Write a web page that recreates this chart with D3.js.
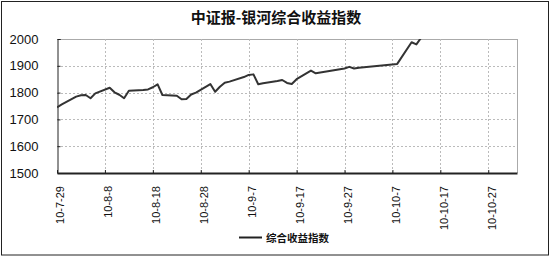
<!DOCTYPE html>
<html><head><meta charset="utf-8">
<script src="https://cdn.jsdelivr.net/npm/d3@7"></script>
<style>body{margin:0;background:#fff}svg{display:block}</style>
</head><body>
<svg id="c" width="550" height="257"></svg>
<script>
const title = "中证报-银河综合收益指数";
const seriesName = "综合收益指数";
const dates = ["2010-07-29","2010-07-30","2010-08-02","2010-08-03","2010-08-04","2010-08-05","2010-08-06",
"2010-08-09","2010-08-10","2010-08-11","2010-08-12","2010-08-13",
"2010-08-16","2010-08-17","2010-08-18","2010-08-19","2010-08-20",
"2010-08-23","2010-08-24","2010-08-25","2010-08-26","2010-08-27",
"2010-08-30","2010-08-31","2010-09-01","2010-09-02","2010-09-03",
"2010-09-06","2010-09-07","2010-09-08","2010-09-09","2010-09-10",
"2010-09-13","2010-09-14","2010-09-15","2010-09-16","2010-09-17",
"2010-09-20","2010-09-21",
"2010-09-27","2010-09-28","2010-09-29","2010-09-30",
"2010-10-08","2010-10-11","2010-10-12","2010-10-13"];
const values = [1745,1756,1785,1790,1791,1779,1797,
1818,1801,1792,1779,1807,
1810,1812,1820,1831,1791,
1788,1775,1776,1793,1800,
1832,1803,1822,1837,1841,
1858,1866,1868,1831,1835,
1843,1847,1836,1832,1850,
1882,1872,
1890,1896,1890,1893,
1907,1988,1980,2005];
const xTickLabels = ["10-7-29","10-8-8","10-8-18","10-8-28","10-9-7","10-9-17","10-9-27","10-10-7","10-10-17","10-10-27"];
const yTicks = [1500,1600,1700,1800,1900,2000];

const parse = d3.timeParse("%Y-%m-%d");
const tickFmt = d3.timeFormat("%y-%-m-%-d");
const data = dates.map((d,i)=>({date:parse(d), v:values[i]}));
const tickDates = xTickLabels.map(s=>{const p=s.split("-");return new Date(2000+ +p[0], +p[1]-1, +p[2]);});

const svg = d3.select("#c");
const L=57,R=517,T=39,B=173;
const x = d3.scaleTime().domain([parse("2010-07-29"), parse("2010-11-02")]).range([L,R]);
const y = d3.scaleLinear().domain([1500,2000]).range([B,T]);

// outer border
svg.append("rect").attr("x",1.5).attr("y",1.5).attr("width",547).attr("height",253.5)
  .attr("fill","none").attr("stroke","#222").attr("stroke-width",1);

// title
svg.append("text").attr("x",276).attr("y",23).attr("text-anchor","middle")
  .attr("font-family","'Noto Sans CJK SC'").attr("font-weight","bold").attr("font-size",15)
  .attr("fill","#111").text(title);

// plot frame top/right
svg.append("line").attr("x1",L).attr("x2",R).attr("y1",T+0.5).attr("y2",T+0.5).attr("stroke","#aaa");
svg.append("line").attr("x1",R+0.5).attr("x2",R+0.5).attr("y1",T).attr("y2",B).attr("stroke","#aaa");

// grid
svg.append("g").selectAll("line").data(yTicks.filter(v=>v>1500&&v<2000)).join("line")
  .attr("x1",L).attr("x2",R).attr("y1",d=>Math.round(y(d))+0.5).attr("y2",d=>Math.round(y(d))+0.5)
  .attr("stroke","#bbb").attr("stroke-dasharray","2,2");
svg.append("g").selectAll("line").data(tickDates.slice(1)).join("line")
  .attr("x1",d=>Math.round(x(d))+0.5).attr("x2",d=>Math.round(x(d))+0.5).attr("y1",T).attr("y2",B)
  .attr("stroke","#bbb").attr("stroke-dasharray","2,2");

// y axis
const yAxis = d3.axisLeft(y).tickValues(yTicks).tickSize(-3).tickPadding(19).tickFormat(d3.format("d"));
const gy = svg.append("g").attr("transform",`translate(${L+0.5},0)`).call(yAxis);
gy.select(".domain").attr("stroke","#222");
gy.selectAll(".tick line").attr("stroke","#222");
gy.selectAll("text").attr("font-family","'Liberation Sans',Arial,sans-serif").attr("font-size",13).attr("fill","#111");

// x axis
const xAxis = d3.axisBottom(x).tickValues(tickDates).tickSize(-3).tickSizeOuter(0).tickFormat(tickFmt);
const gx = svg.append("g").attr("transform",`translate(0,${B})`).call(xAxis);
gx.select(".domain").attr("stroke","#222").attr("stroke-width",2);
gx.selectAll(".tick line").attr("stroke","#222");
gx.selectAll("text").attr("font-family","'Liberation Sans',Arial,sans-serif").attr("font-size",11).attr("fill","#111")
  .attr("text-anchor","end").attr("transform","rotate(-90)").attr("x",-13).attr("y",0).attr("dy","0.35em").attr("dx",0);
gx.selectAll(".tick").each(function(){
  d3.select(this).select("text").attr("x",-13).attr("y",3);
});

// clip
svg.append("clipPath").attr("id","clip").append("rect").attr("x",L).attr("y",T).attr("width",R-L).attr("height",B-T);

const line = d3.line().x(d=>x(d.date)).y(d=>y(d.v));
svg.append("path").datum(data).attr("clip-path","url(#clip)").attr("d",line)
  .attr("fill","none").attr("stroke","#333").attr("stroke-width",2).attr("stroke-linejoin","round");

// legend
svg.append("line").attr("x1",239).attr("x2",262).attr("y1",237.5).attr("y2",237.5).attr("stroke","#222").attr("stroke-width",2);
svg.append("text").attr("x",266).attr("y",241.5)
  .attr("font-family","'Noto Sans CJK SC'").attr("font-weight","bold").attr("font-size",10.5)
  .attr("fill","#111").text(seriesName);
</script>
</body></html>
